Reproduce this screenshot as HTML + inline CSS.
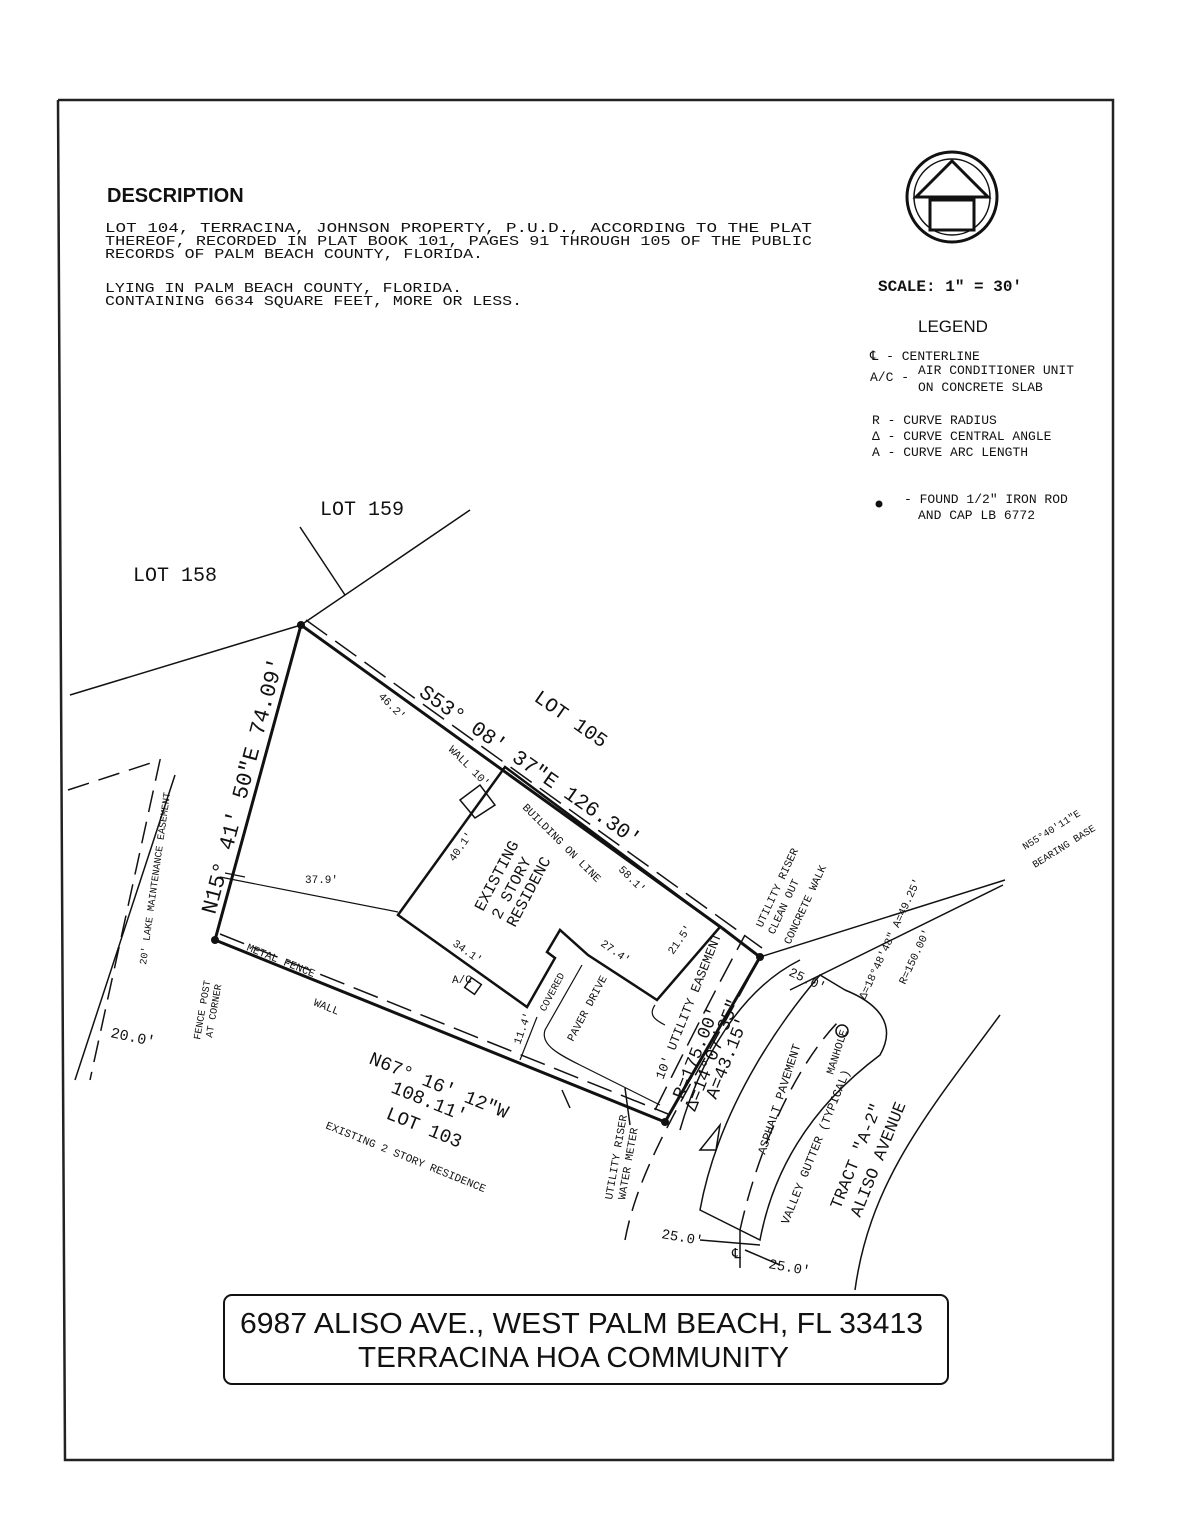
<!DOCTYPE html>
<html><head><meta charset="utf-8"><style>
html,body{margin:0;padding:0;background:#fff;}
svg{display:block}
text{font-family:"Liberation Mono",monospace;fill:#111}
.s{font-family:"Liberation Sans",sans-serif}
</style></head><body>
<svg width="1194" height="1536" viewBox="0 0 1194 1536" xmlns="http://www.w3.org/2000/svg">
<rect width="1194" height="1536" fill="#fff"/>
<path d="M58 100 L1113 100 L1113 1460 L65 1460 L58 100" fill="none" stroke="#222" stroke-width="2.5"/>
<text x="107" y="202" class="s" font-size="20" font-weight="bold">DESCRIPTION</text>
<g font-size="14">
<text x="105" y="232" textLength="707" lengthAdjust="spacingAndGlyphs">LOT 104, TERRACINA,  JOHNSON PROPERTY,  P.U.D.,  ACCORDING TO THE PLAT</text>
<text x="105" y="245" textLength="707" lengthAdjust="spacingAndGlyphs">THEREOF, RECORDED IN PLAT BOOK 101, PAGES 91 THROUGH 105 OF THE PUBLIC</text>
<text x="105" y="258" textLength="378" lengthAdjust="spacingAndGlyphs">RECORDS OF PALM BEACH COUNTY, FLORIDA.</text>
<text x="105" y="292" textLength="357" lengthAdjust="spacingAndGlyphs">LYING IN PALM BEACH COUNTY, FLORIDA.</text>
<text x="105" y="305" textLength="417" lengthAdjust="spacingAndGlyphs">CONTAINING 6634 SQUARE FEET, MORE OR LESS.</text>
</g>
<g fill="none" stroke="#111" stroke-width="3">
<circle cx="952" cy="197" r="45"/>
<circle cx="952" cy="197" r="38" stroke-width="1.5"/>
<path d="M916 197 L952 161 L988 197 Z"/>
<rect x="930" y="200" width="44" height="30"/>
</g>
<text x="878" y="291" font-size="16" font-weight="bold">SCALE:  1" = 30'</text>
<text x="918" y="332" class="s" font-size="17">LEGEND</text>
<g font-size="13">
<text x="870" y="360">℄  - CENTERLINE</text>
<text x="870" y="381">A/C -</text>
<text x="918" y="374">AIR CONDITIONER UNIT</text>
<text x="918" y="391">ON CONCRETE SLAB</text>
<text x="872" y="424">R   - CURVE RADIUS</text>
<text x="872" y="440">Δ   - CURVE CENTRAL ANGLE</text>
<text x="872" y="456">A   - CURVE ARC LENGTH</text>
<text x="904" y="503">- FOUND 1/2" IRON ROD</text>
<text x="918" y="519">AND CAP LB 6772</text>
</g>
<circle cx="879" cy="504" r="3.5" fill="#111"/>
<text x="320" y="515" font-size="20">LOT 159</text>
<text x="133" y="581" font-size="20">LOT 158</text>
<g stroke="#111" stroke-width="1.5" fill="none">
<path d="M300 527 L345 595 M301 625 L470 510 M70 695 L301 625"/>
<path d="M68 790 L160 760 L90 1080" stroke-dasharray="22 10"/>
<path d="M175 775 L75 1080"/>
<path d="M562 1090 L570 1108 M625 1088 L630 1125"/>
<path d="M760 957 L1005 880 M790 990 L1003 885"/>
<path d="M1000 1015 C930 1110 870 1180 855 1290"/>
<path d="M625 1240 C640 1160 690 1090 760 957" stroke-dasharray="20 10"/>
<path d="M680 1130 C700 1060 740 990 800 960" />
<path d="M700 1150 L720 1125 L716 1150 Z"/>
<path d="M700 1210 C720 1100 790 1010 820 975 L845 990 C870 1000 900 1020 880 1055 C820 1100 775 1160 760 1240 Z"/>
<path d="M740 1230 C760 1140 800 1060 840 1020" stroke-dasharray="20 10"/>
<path d="M700 1240 L760 1245 M745 1250 L780 1265 M740 1230 L740 1268"/>
</g>
<circle cx="842" cy="1031" r="6" fill="none" stroke="#111" stroke-width="1.5"/>
<g stroke="#111" stroke-width="3" fill="none">
<path d="M301 625 L215 940 L665 1122 C700 1060 730 1010 760 957 L722 928"/>
<path d="M301 625 L722 928"/>
</g>
<g stroke="#111" stroke-width="1.5" fill="none" stroke-dasharray="26 10">
<path d="M306 620 L762 948"/>
<path d="M220 934 L668 1114"/>
<path d="M655 1110 C690 1040 710 1000 745 935"/>
</g>
<path d="M505 767 L720 927 L657 1000 L588 955 L560 930 L547 952 L555 958 L527 1007 L398 915 Z" fill="none" stroke="#111" stroke-width="2.5"/>
<path d="M460 800 L480 785 L495 805 L475 818 Z" fill="none" stroke="#111" stroke-width="1.5"/>
<rect x="467" y="980" width="12" height="12" fill="none" stroke="#111" stroke-width="1.5" transform="rotate(35 473 986)"/>
<path d="M582 965 L545 1030 C540 1045 560 1055 580 1065 L660 1105 M655 1005 C648 1015 655 1020 665 1025" fill="none" stroke="#111" stroke-width="1.2"/>
<g stroke="#111" stroke-width="1.2" fill="none">
<path d="M220 877 L398 912 M520 1060 L537 1017 M245 877 L225 873"/>
</g>
<circle cx="301" cy="625" r="4" fill="#111"/>
<circle cx="215" cy="940" r="4" fill="#111"/>
<circle cx="665" cy="1122" r="4" fill="#111"/>
<circle cx="760" cy="957" r="4" fill="#111"/>
<text font-size="22" transform="translate(215 915) rotate(-75)">N15° 41' 50"E 74.09'</text>
<text font-size="21" transform="translate(418 695) rotate(35)">S53° 08' 37"E 126.30'</text>
<text font-size="20" transform="translate(533 700) rotate(35)">LOT 105</text>
<text font-size="19" transform="translate(368 1063) rotate(22)">N67° 16' 12"W</text>
<text font-size="19" transform="translate(390 1092) rotate(22)">108.11'</text>
<text font-size="19" transform="translate(385 1118) rotate(22)">LOT 103</text>
<text font-size="11" transform="translate(325 1128) rotate(22)">EXISTING 2 STORY RESIDENCE</text>
<text font-size="11" transform="translate(378 697) rotate(45)">46.2'</text>
<text font-size="11" transform="translate(448 750) rotate(45)">WALL 10'</text>
<text font-size="11" transform="translate(522 808) rotate(45)">BUILDING ON LINE</text>
<text font-size="11" transform="translate(618 870) rotate(45)">58.1'</text>
<text font-size="11" transform="translate(454 862) rotate(-55)">40.1'</text>
<text font-size="11" x="305" y="883">37.9'</text>
<text font-size="11" transform="translate(452 945) rotate(35)">34.1'</text>
<text font-size="11" x="452" y="983">A/C</text>
<text font-size="11" transform="translate(600 945) rotate(35)">27.4'</text>
<text font-size="11" transform="translate(673 955) rotate(-55)">21.5'</text>
<text font-size="11" transform="translate(573 1042) rotate(-62)">PAVER DRIVE</text>
<text font-size="10" transform="translate(545 1012) rotate(-62)">COVERED</text>
<text font-size="16" transform="translate(483 912) rotate(-62)">EXISTING</text>
<text font-size="16" transform="translate(500 920) rotate(-62)">2 STORY</text>
<text font-size="16" transform="translate(515 928) rotate(-62)">RESIDENC</text>
<text font-size="11" transform="translate(520 1045) rotate(-70)">11.4'</text>
<text font-size="11" transform="translate(246 950) rotate(22)">METAL FENCE</text>
<text font-size="11" transform="translate(313 1005) rotate(22)">WALL</text>
<text font-size="10" transform="translate(200 1040) rotate(-80)">FENCE POST</text>
<text font-size="10" transform="translate(212 1038) rotate(-80)">AT CORNER</text>
<text font-size="10" transform="translate(146 965) rotate(-82)">20' LAKE MAINTENANCE EASEMENT</text>
<text font-size="15" transform="translate(110 1037) rotate(12)">20.0'</text>
<text font-size="18" transform="translate(683 1100) rotate(-68)">R=175.00'</text>
<text font-size="18" transform="translate(695 1112) rotate(-68)">Δ=14°07'35"</text>
<text font-size="18" transform="translate(716 1100) rotate(-68)">A=43.15'</text>
<text font-size="13" transform="translate(663 1080) rotate(-68)">10' UTILITY EASEMENT</text>
<text font-size="11" transform="translate(612 1200) rotate(-80)">UTILITY RISER</text>
<text font-size="11" transform="translate(625 1200) rotate(-80)">WATER METER</text>
<text font-size="11" transform="translate(762 928) rotate(-65)">UTILITY RISER</text>
<text font-size="11" transform="translate(774 935) rotate(-65)">CLEAN OUT</text>
<text font-size="11" transform="translate(790 945) rotate(-65)">CONCRETE WALK</text>
<text font-size="13" transform="translate(788 975) rotate(25)">25.0'</text>
<text font-size="11" transform="translate(865 1000) rotate(-65)">Δ=18°48'48"  A=49.25'</text>
<text font-size="11" transform="translate(905 985) rotate(-65)">R=150.00'</text>
<text font-size="10" transform="translate(1025 850) rotate(-32)">N55°40'11"E</text>
<text font-size="10" transform="translate(1035 868) rotate(-32)">BEARING BASE</text>
<text font-size="12" transform="translate(765 1155) rotate(-72)">ASPHALT PAVEMENT</text>
<text font-size="11" transform="translate(833 1075) rotate(-72)">MANHOLE</text>
<text font-size="12" transform="translate(788 1225) rotate(-68)">VALLEY GUTTER (TYPICAL)</text>
<text font-size="17" transform="translate(840 1210) rotate(-68)">TRACT "A-2"</text>
<text font-size="17" transform="translate(860 1218) rotate(-68)">ALISO AVENUE</text>
<text font-size="14" transform="translate(661 1238) rotate(10)">25.0'</text>
<text font-size="14" transform="translate(768 1268) rotate(10)">25.0'</text>
<text font-size="14" x="732" y="1258">℄</text>
<rect x="224" y="1295" width="724" height="89" rx="8" fill="#fff" stroke="#111" stroke-width="2"/>
<text x="240" y="1333" class="s" font-size="29" textLength="683" lengthAdjust="spacingAndGlyphs">6987 ALISO AVE., WEST PALM BEACH, FL 33413</text>
<text x="358" y="1367" class="s" font-size="29" textLength="431" lengthAdjust="spacingAndGlyphs">TERRACINA HOA COMMUNITY</text>
</svg>
</body></html>
